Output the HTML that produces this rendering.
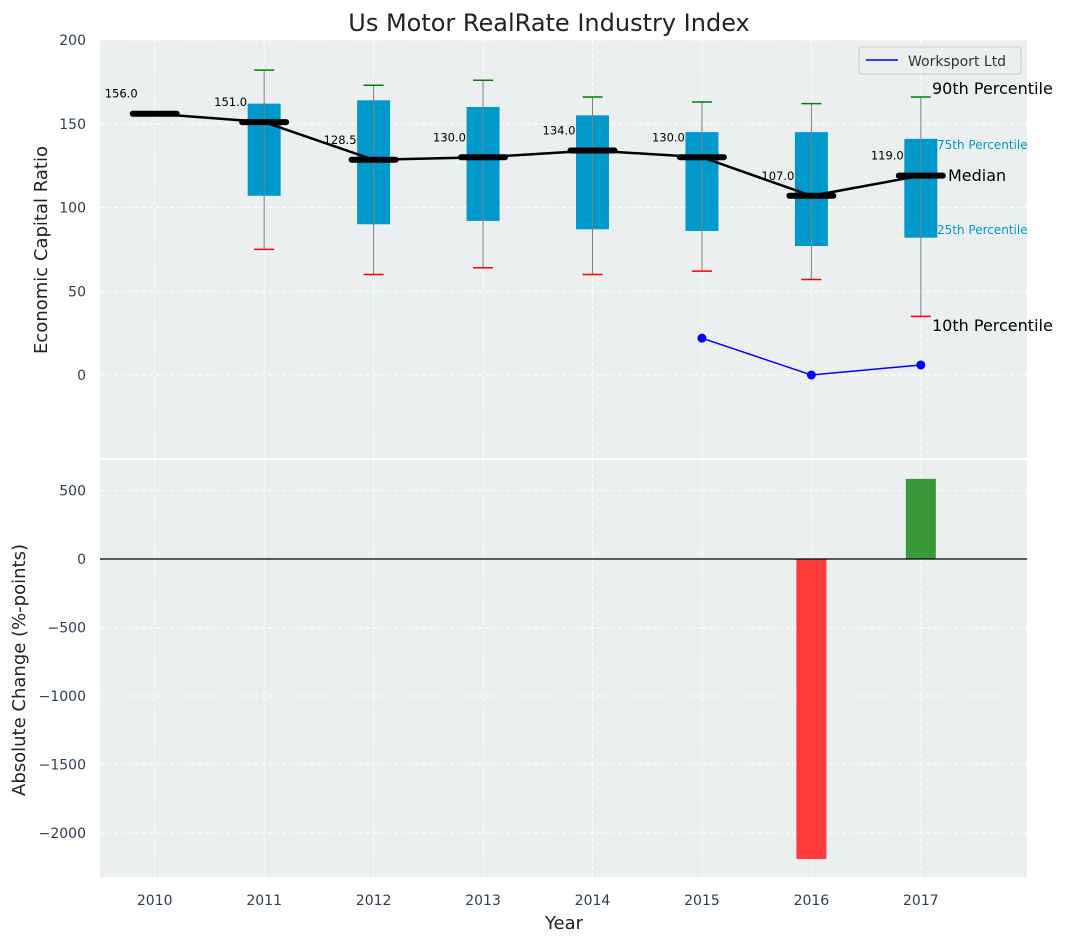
<!DOCTYPE html>
<html><head><meta charset="utf-8"><style>
body{margin:0;background:#fff;font-family:"Liberation Sans","DejaVu Sans",sans-serif}
svg text{font-family:"DejaVu Sans","Liberation Sans",sans-serif}
</style></head><body>
<svg id="c" width="1067" height="942" xmlns="http://www.w3.org/2000/svg"></svg>
<script>
const years=[2010,2011,2012,2013,2014,2015,2016,2017];
const medians=[156,151,128.5,130,134,130,107,119];
const q1=[null,107,90,92,87,86,77,82];
const q3=[null,162,164,160,155,145,145,141];
const p10=[null,75,60,64,60,62,57,35];
const p90=[null,182,173,176,166,163,162,166];
const compYears=[2015,2016,2017];
const compVals=[22,0,6];
const barYears=[2016,2017];
const barVals=[-2190,585];
const topTicks=[0,50,100,150,200];
const botTicks=[500,0,-500,-1000,-1500,-2000];

const svg=document.getElementById('c');
const NS='http://www.w3.org/2000/svg';
function mk(t,a,p){const e=document.createElementNS(NS,t);for(const k in a)e.setAttribute(k,a[k]);(p||svg).appendChild(e);return e;}
const L=100,R=1027;
const X=v=>L+(v-2009.5)/(2017.97-2009.5)*(R-L);
const T0=40,T1=458,B0=460,B1=877;
const YT=v=>375-v*(335/200);
const YB=v=>559-v*(68.5/500);

let e=mk('rect',{x:L,y:T0,width:R-L,height:T1-T0,fill:'#ebeff0'});

e=mk('rect',{x:L,y:B0,width:R-L,height:B1-B0,fill:'#ebeff0'});


years.forEach(y=>{
  mk('line',{x1:X(y),x2:X(y),y1:T0,y2:T1,stroke:'#fff','stroke-dasharray':'4,3'});
  mk('line',{x1:X(y),x2:X(y),y1:B0,y2:B1,stroke:'#fff','stroke-dasharray':'4,3'});
  const t=mk('text',{x:X(y),y:905,'text-anchor':'middle','font-size':14,fill:'#2d3e50'});t.textContent=y;
  
});
topTicks.forEach(v=>{
  mk('line',{x1:L,x2:R,y1:YT(v),y2:YT(v),stroke:'#fff','stroke-dasharray':'4,3'});
  const t=mk('text',{x:86,y:YT(v)+5,'text-anchor':'end','font-size':14,fill:'#2d3e50'});t.textContent=v;
  
});
botTicks.forEach(v=>{
  mk('line',{x1:L,x2:R,y1:YB(v),y2:YB(v),stroke:'#fff','stroke-dasharray':'4,3'});
  const t=mk('text',{x:86,y:YB(v)+5,'text-anchor':'end','font-size':14,fill:'#2d3e50'});t.textContent=v<0?'\u2212'+(-v):v;
  
});

years.forEach((y,i)=>{
  if(q1[i]==null)return;
  const cx=X(y),hw=16.5;
  const b=mk('rect',{x:cx-hw,y:YT(q3[i]),width:2*hw,height:YT(q1[i])-YT(q3[i]),fill:'#0099cc'});
  
  mk('line',{x1:cx,x2:cx,y1:YT(p10[i]),y2:YT(p90[i]),stroke:'#808080','stroke-width':1});
  mk('line',{x1:cx-10,x2:cx+10,y1:YT(p90[i]),y2:YT(p90[i]),stroke:'green','stroke-width':1.5});
  mk('line',{x1:cx-10,x2:cx+10,y1:YT(p10[i]),y2:YT(p10[i]),stroke:'red','stroke-width':1.5});
});
const ml=mk('polyline',{points:years.map((y,i)=>X(y)+','+YT(medians[i])).join(' '),fill:'none',stroke:'#000','stroke-width':2.5});

years.forEach((y,i)=>{
  const m=mk('line',{x1:X(y)-22,x2:X(y)+22,y1:YT(medians[i]),y2:YT(medians[i]),stroke:'#000','stroke-width':6,'stroke-linecap':'round'});
  
  const t=mk('text',{x:X(y)-50,y:YT(medians[i])-16,'font-size':11.5,fill:'#000'});t.textContent=medians[i].toFixed(1);
  
});
const cl=mk('polyline',{points:compYears.map((y,i)=>X(y)+','+YT(compVals[i])).join(' '),fill:'none',stroke:'blue','stroke-width':1.5});

compYears.forEach((y,i)=>{const c=mk('circle',{cx:X(y),cy:YT(compVals[i]),r:4.5,fill:'blue'});
  });

[['90th Percentile',932,94,16,'#000'],['75th Percentile',937,149,12,'#0099cc'],['Median',948,181,16,'#000'],['25th Percentile',937,234,12,'#0099cc'],['10th Percentile',932,331,16,'#000']].forEach(a=>{
  const t=mk('text',{x:a[1],y:a[2],'font-size':a[3],fill:a[4]});t.textContent=a[0];
  
});

const lg=mk('g',{});
mk('rect',{x:859,y:47,width:162,height:27,rx:3,fill:'#ebeff0',stroke:'#ccc'},lg);
mk('line',{x1:866,x2:898,y1:60,y2:60,stroke:'blue','stroke-width':1.5},lg);
let lt=mk('text',{x:908,y:66,'font-size':14,fill:'#333'},lg);lt.textContent='Worksport Ltd';

barYears.forEach((y,i)=>{
  const v=barVals[i];
  const b=mk('rect',{x:X(y)-15,y:Math.min(YB(0),YB(v)),width:30,height:Math.abs(YB(v)-YB(0)),fill:v<0?'#ff3b3b':'#3a9a3a'});
  
});
mk('line',{x1:L,x2:R,y1:YB(0),y2:YB(0),stroke:'#000','stroke-width':1.2});

let t=mk('text',{x:549,y:31,'text-anchor':'middle','font-size':24,fill:'#222'});t.textContent='Us Motor RealRate Industry Index';

t=mk('text',{x:47,y:250,'text-anchor':'middle','font-size':18,fill:'#222',transform:'rotate(-90 47 250)'});t.textContent='Economic Capital Ratio';

t=mk('text',{x:25,y:670,'text-anchor':'middle','font-size':18,fill:'#222',transform:'rotate(-90 25 670)'});t.textContent='Absolute Change (%-points)';

t=mk('text',{x:564,y:929,'text-anchor':'middle','font-size':18,fill:'#222'});t.textContent='Year';

</script>
</body></html>
